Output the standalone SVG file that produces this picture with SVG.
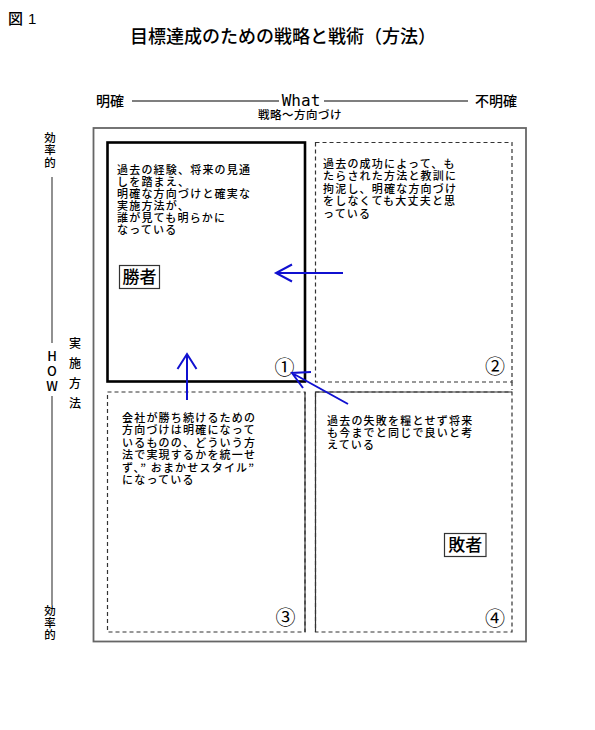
<svg xmlns="http://www.w3.org/2000/svg" width="595" height="730" viewBox="0 0 595 730">
<style>
text{font-family:"Noto Sans CJK JP","Noto Sans CJK SC",sans-serif;fill:#000}
.t{font-size:11px;letter-spacing:1.2px;font-weight:500}
.num{font-size:20px}
.lab{font-size:17px;font-weight:500}
.ax{font-size:14px;font-weight:500}
.v{font-size:11.5px;text-anchor:middle;font-weight:500}
.dash{fill:none;stroke:#333;stroke-width:1.2;stroke-dasharray:4 3}
.sol{fill:none;stroke:#333;stroke-width:1.2}
.gl{stroke:#555;stroke-width:1.3}
.arr{fill:none;stroke:#1010d0;stroke-width:2}
</style>
<rect width="595" height="730" fill="#fff"/>
<g id="header">
<text x="8" y="24" style="font-size:15px;font-weight:500">図</text>
<text x="28" y="24" style="font-family:'Liberation Sans',sans-serif;font-size:15px">1</text>
<text x="283" y="43" style="font-size:18px;font-weight:500" text-anchor="middle">目標達成のための戦略と戦術（方法）</text>
</g>
<g id="what-axis">
<text x="96" y="106" class="ax">明確</text>
<line x1="132" y1="101" x2="279" y2="101" class="gl"/>
<text x="301" y="106" text-anchor="middle" style="font-family:'DejaVu Sans Mono',monospace;font-size:16px">What</text>
<line x1="324" y1="101" x2="468" y2="101" class="gl"/>
<text x="475" y="106" class="ax">不明確</text>
<text x="300" y="119" text-anchor="middle" style="font-size:11.5px;font-weight:500;letter-spacing:0.5px">戦略〜方向づけ</text>
</g>
<g id="how-axis">
<text x="50" y="142" class="v">効</text>
<text x="50" y="154" class="v">率</text>
<text x="50" y="166.5" class="v">的</text>
<line x1="52" y1="177" x2="52" y2="343" class="gl"/>
<text x="52" y="361" class="v" style="font-size:13px">H</text>
<text x="52" y="376" class="v" style="font-size:13px">O</text>
<text x="52" y="391" class="v" style="font-size:13px">W</text>
<line x1="52" y1="396" x2="52" y2="605" class="gl"/>
<text x="50" y="615" class="v">効</text>
<text x="50" y="627" class="v">率</text>
<text x="50" y="639" class="v">的</text>
<text x="75" y="347.5" class="v" style="font-size:12px">実</text>
<text x="75" y="367.5" class="v" style="font-size:12px">施</text>
<text x="75" y="387.5" class="v" style="font-size:12px">方</text>
<text x="75" y="407.5" class="v" style="font-size:12px">法</text>
</g>
<g id="frame">
<rect x="93.5" y="128" width="432.5" height="513.5" fill="none" stroke="#666" stroke-width="1.8"/>
</g>
<g id="q1">
<rect x="107.5" y="142.5" width="197.5" height="239" fill="none" stroke="#000" stroke-width="2.6"/>
<text class="t" x="117" y="173.5">過去の経験、将来の見通</text>
<text class="t" x="117" y="185.5">しを踏まえ、</text>
<text class="t" x="117" y="197.5">明確な方向づけと確実な</text>
<text class="t" x="117" y="209.5">実施方法が、</text>
<text class="t" x="117" y="221.5">誰が見ても明らかに</text>
<text class="t" x="117" y="233.5">なっている</text>
<rect x="119.5" y="265.5" width="40" height="23" fill="none" stroke="#333" stroke-width="1.2"/>
<text class="lab" x="139.5" y="283" text-anchor="middle">勝者</text>
<text class="num" x="284.5" y="375" text-anchor="middle">①</text>
</g>
<g id="q2">
<rect x="315.5" y="142.5" width="196.5" height="239.5" class="dash"/>
<line x1="512" y1="382" x2="512" y2="390" class="dash"/>
<text class="t" x="323" y="167.5">過去の成功によって、も</text>
<text class="t" x="323" y="180">たらされた方法と教訓に</text>
<text class="t" x="323" y="192.5">拘泥し、明確な方向づけ</text>
<text class="t" x="323" y="205">をしなくても大丈夫と思</text>
<text class="t" x="323" y="217.5">っている</text>
<text class="num" x="495" y="373.5" text-anchor="middle">②</text>
</g>
<g id="q3">
<rect x="107.5" y="392" width="197.5" height="240" class="dash"/>
<line x1="305" y1="392" x2="305" y2="632" class="sol"/>
<text class="t" x="122" y="421.5">会社が勝ち続けるための</text>
<text class="t" x="122" y="434">方向づけは明確になって</text>
<text class="t" x="122" y="446.5">いるものの、どういう方</text>
<text class="t" x="122" y="459">法で実現するかを統一せ</text>
<text class="t" x="122" y="471.5">ず、” おまかせスタイル”</text>
<text class="t" x="122" y="484">になっている</text>
<text class="num" x="285.5" y="625" text-anchor="middle">③</text>
</g>
<g id="q4">
<rect x="315.5" y="392" width="196.5" height="240" class="dash"/>
<path d="M315.5 632 V392 H512" class="sol"/>
<text class="t" x="327" y="424.5">過去の失敗を糧とせず将来</text>
<text class="t" x="327" y="436.5">も今までと同じで良いと考</text>
<text class="t" x="327" y="448.5">えている</text>
<rect x="444.5" y="533.5" width="41.5" height="23" fill="none" stroke="#333" stroke-width="1.2"/>
<text class="lab" x="465.2" y="551" text-anchor="middle">敗者</text>
<text class="num" x="495" y="626" text-anchor="middle">④</text>
</g>
<g id="connectors">
<path d="M343 273 H276 M292 264.5 L276 273 L292 281.5" class="arr"/>
<path d="M187 400 V354 M177.5 369 L187 354 L196.5 369" class="arr"/>
<path d="M348 404 L292 373 M311 372 L292 373 L303 388" class="arr"/>
</g>
</svg>
